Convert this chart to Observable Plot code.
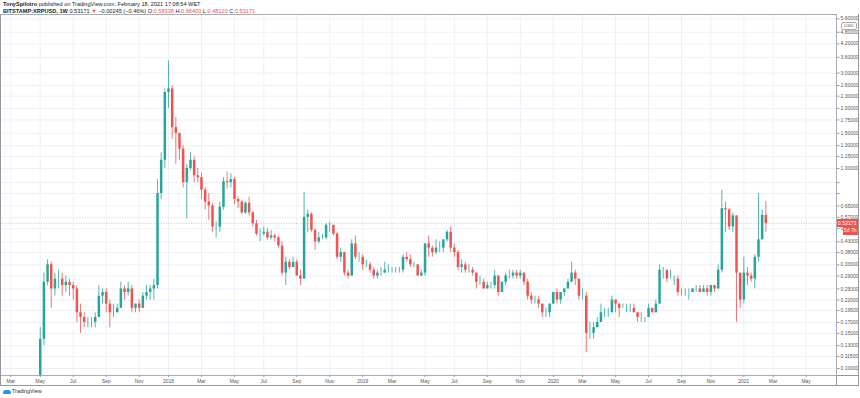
<!DOCTYPE html>
<html><head><meta charset="utf-8">
<script src="https://cdn.jsdelivr.net/npm/d3@7"></script>
<script src="https://cdn.jsdelivr.net/npm/@observablehq/plot@0.6"></script>
<style>
body{margin:0;background:#fff;font-family:"Liberation Sans",Arial,sans-serif;}
#wrap{position:relative;width:860px;height:398px;overflow:hidden;background:#fff;}
#wrap svg{position:absolute;left:0;top:0;}
.hdr{position:absolute;left:3px;font-size:5.6px;white-space:nowrap;color:#222;}
.red{color:#ef5350;}
.ln{position:absolute;background:#9598a1;}
.box{position:absolute;font-size:5.2px;text-align:center;color:#fff;background:#ef5350;line-height:8px;}
#usd{position:absolute;left:841px;top:21.5px;width:14px;height:6px;border:0.6px solid #aaa;border-radius:2px;background:#fff;font-size:4.4px;line-height:6px;text-align:center;color:#555;}
#tv{position:absolute;left:3px;top:388px;font-size:5.4px;color:#333;}
#tv span.ic{display:inline-block;width:8px;height:4px;background:#2196f3;border-radius:3px 3px 1px 1px;margin-right:1px;vertical-align:middle;}
</style></head><body><div id="wrap"></div>
<script>
// ---- data (weekly candles, BITSTAMP:XRPUSD) ----
const firstWeek = "2017-05-01";
const lastWeek = "2021-02-15";
const open = [
0.060,0.140,0.270,0.330,0.250,0.280,0.280,0.260,0.270,0.260,
0.250,0.190,0.180,0.170,0.170,0.170,0.180,0.230,0.240,0.210,
0.190,0.190,0.200,0.250,0.240,0.250,0.200,0.210,0.200,0.230,
0.240,0.250,0.260,0.750,1.100,2.400,2.500,1.600,1.500,1.250,
0.850,1.000,1.100,0.920,0.900,0.780,0.680,0.650,0.510,0.510,
0.640,0.860,0.850,0.880,0.700,0.680,0.600,0.670,0.600,0.530,
0.470,0.470,0.480,0.450,0.460,0.450,0.410,0.300,0.340,0.320,
0.340,0.290,0.280,0.570,0.590,0.490,0.430,0.450,0.450,0.520,
0.520,0.470,0.360,0.380,0.300,0.290,0.420,0.360,0.360,0.330,
0.330,0.310,0.290,0.300,0.300,0.310,0.310,0.310,0.310,0.310,
0.360,0.350,0.330,0.330,0.290,0.300,0.420,0.400,0.380,0.400,
0.400,0.440,0.480,0.400,0.380,0.320,0.330,0.310,0.310,0.300,
0.270,0.270,0.250,0.260,0.260,0.290,0.240,0.270,0.290,0.290,
0.300,0.290,0.300,0.270,0.230,0.220,0.220,0.210,0.190,0.190,
0.210,0.240,0.220,0.240,0.250,0.270,0.300,0.280,0.230,0.230,
0.150,0.150,0.160,0.170,0.190,0.190,0.190,0.220,0.210,0.200,
0.200,0.200,0.200,0.190,0.180,0.180,0.180,0.200,0.190,0.210,
0.310,0.310,0.280,0.280,0.280,0.240,0.240,0.240,0.240,0.250,
0.250,0.240,0.250,0.240,0.260,0.250,0.310,0.630,0.620,0.510,
0.580,0.300,0.220,0.300,0.290,0.280,0.360,0.440,0.583];
const high = [
0.160,0.300,0.350,0.340,0.300,0.310,0.300,0.290,0.280,0.270,
0.260,0.210,0.190,0.180,0.180,0.190,0.260,0.250,0.250,0.220,
0.210,0.210,0.270,0.260,0.270,0.260,0.210,0.220,0.240,0.260,
0.260,0.280,0.880,1.200,2.500,3.450,2.600,1.800,1.450,1.300,
1.050,1.200,1.150,1.000,0.950,0.800,0.750,0.670,0.540,0.680,
0.900,0.960,0.940,0.900,0.720,0.690,0.680,0.720,0.610,0.550,
0.500,0.510,0.500,0.490,0.470,0.460,0.430,0.360,0.350,0.360,
0.350,0.310,0.760,0.620,0.600,0.500,0.480,0.470,0.530,0.540,
0.520,0.480,0.400,0.380,0.310,0.440,0.460,0.380,0.370,0.350,
0.340,0.320,0.310,0.320,0.340,0.330,0.320,0.320,0.320,0.370,
0.380,0.370,0.340,0.330,0.310,0.420,0.460,0.410,0.440,0.430,
0.440,0.490,0.510,0.420,0.390,0.350,0.340,0.330,0.320,0.300,
0.290,0.280,0.270,0.270,0.310,0.290,0.270,0.300,0.310,0.310,
0.310,0.310,0.300,0.280,0.240,0.230,0.230,0.210,0.200,0.210,
0.240,0.250,0.240,0.250,0.280,0.340,0.310,0.280,0.250,0.240,
0.170,0.170,0.180,0.210,0.200,0.200,0.230,0.220,0.210,0.210,
0.210,0.210,0.210,0.190,0.190,0.180,0.210,0.200,0.220,0.330,
0.320,0.310,0.310,0.290,0.290,0.250,0.250,0.250,0.250,0.260,
0.260,0.260,0.260,0.260,0.260,0.330,0.780,0.680,0.630,0.600,
0.580,0.240,0.360,0.320,0.300,0.370,0.750,0.620,0.684];
const low = [
0.060,0.130,0.260,0.200,0.230,0.250,0.230,0.240,0.230,0.220,
0.170,0.150,0.160,0.160,0.160,0.160,0.180,0.210,0.190,0.160,
0.180,0.190,0.200,0.220,0.230,0.190,0.190,0.190,0.200,0.220,
0.220,0.220,0.250,0.700,1.000,2.000,1.400,1.050,1.100,0.800,
0.560,0.980,0.850,0.850,0.700,0.620,0.550,0.480,0.450,0.480,
0.620,0.790,0.800,0.660,0.630,0.590,0.590,0.580,0.510,0.460,
0.430,0.460,0.440,0.440,0.430,0.400,0.290,0.260,0.310,0.320,
0.290,0.260,0.280,0.480,0.480,0.390,0.420,0.440,0.440,0.480,
0.460,0.350,0.340,0.290,0.280,0.290,0.350,0.340,0.310,0.320,
0.300,0.280,0.280,0.290,0.300,0.300,0.300,0.300,0.300,0.300,
0.340,0.320,0.320,0.290,0.290,0.290,0.360,0.360,0.370,0.380,
0.380,0.430,0.380,0.360,0.310,0.300,0.300,0.300,0.290,0.250,
0.260,0.250,0.250,0.250,0.250,0.230,0.240,0.260,0.280,0.280,
0.280,0.280,0.260,0.220,0.210,0.210,0.200,0.180,0.180,0.180,
0.210,0.210,0.210,0.230,0.250,0.270,0.260,0.220,0.220,0.120,
0.140,0.140,0.160,0.170,0.180,0.180,0.190,0.190,0.180,0.200,
0.190,0.190,0.190,0.170,0.170,0.170,0.180,0.190,0.190,0.210,
0.280,0.270,0.280,0.260,0.230,0.230,0.230,0.220,0.240,0.240,
0.240,0.240,0.230,0.230,0.240,0.250,0.300,0.480,0.490,0.480,
0.170,0.200,0.210,0.260,0.270,0.250,0.340,0.440,0.481];
const close = [
0.140,0.270,0.330,0.250,0.280,0.280,0.260,0.270,0.260,0.250,
0.190,0.180,0.170,0.170,0.170,0.180,0.230,0.240,0.210,0.190,
0.190,0.200,0.250,0.240,0.250,0.200,0.210,0.200,0.230,0.240,
0.250,0.260,0.750,1.100,2.400,2.500,1.600,1.500,1.250,0.850,
1.000,1.100,0.920,0.900,0.780,0.680,0.650,0.510,0.510,0.640,
0.860,0.850,0.880,0.700,0.680,0.600,0.670,0.600,0.530,0.470,
0.470,0.480,0.450,0.460,0.450,0.410,0.300,0.340,0.320,0.340,
0.290,0.280,0.570,0.590,0.490,0.430,0.450,0.450,0.520,0.520,
0.470,0.360,0.380,0.300,0.290,0.420,0.360,0.360,0.330,0.330,
0.310,0.290,0.300,0.300,0.310,0.310,0.310,0.310,0.310,0.360,
0.350,0.330,0.330,0.290,0.300,0.420,0.400,0.380,0.400,0.400,
0.440,0.480,0.400,0.380,0.320,0.330,0.310,0.310,0.300,0.270,
0.270,0.250,0.260,0.260,0.290,0.240,0.270,0.290,0.290,0.300,
0.290,0.300,0.270,0.230,0.220,0.220,0.210,0.190,0.190,0.210,
0.240,0.220,0.240,0.250,0.270,0.300,0.280,0.230,0.230,0.150,
0.150,0.160,0.170,0.190,0.190,0.190,0.220,0.210,0.200,0.200,
0.200,0.200,0.190,0.180,0.180,0.180,0.200,0.190,0.210,0.310,
0.310,0.280,0.280,0.280,0.240,0.240,0.240,0.240,0.250,0.250,
0.240,0.250,0.240,0.260,0.250,0.310,0.630,0.620,0.510,0.580,
0.300,0.220,0.300,0.290,0.280,0.360,0.440,0.583,0.53171];

const yTicks = [0.1,0.115,0.13,0.15,0.17,0.195,0.22,0.25,0.29,0.33,0.38,0.43,0.5,0.57,0.65,0.75,0.85,1,1.15,1.3,1.5,1.75,2,2.3,2.6,3,3.6,4.2,4.8,5.6];
const xTickDates = ["2017-03-06","2017-05-01","2017-07-03","2017-09-04","2017-11-06","2018-01-01","2018-03-05","2018-05-07","2018-07-02","2018-09-03","2018-11-05","2019-01-07","2019-03-04","2019-05-06","2019-07-01","2019-09-02","2019-11-04","2020-01-06","2020-03-02","2020-05-04","2020-07-06","2020-09-07","2020-11-02","2021-01-04","2021-03-01","2021-05-03"];
const xTickLabels = ["Mar","May","Jul","Sep","Nov","2018","Mar","May","Jul","Sep","Nov","2019","Mar","May","Jul","Sep","Nov","2020","Mar","May","Jul","Sep","Nov","2021","Mar","May"];
const lastPrice = 0.53171;

// ---- build ----
const weeks = d3.utcMonday.range(new Date(firstWeek), d3.utcDay.offset(new Date(lastWeek), 1));
const bars = weeks.map((d, i) => ({date: d, o: open[i], h: high[i], l: low[i], c: close[i]}));
const tickDates = xTickDates.map(s => new Date(s));
const labelOf = new Map(tickDates.map((d, i) => [+d, xTickLabels[i]]));
const UP = "#26a69a", DN = "#ef5350";
const col = d => d.c >= d.o ? UP : DN;
// the 0.50000 label sits under the price tag on the reference; keep it but hidden by the tag
const axisTicks = yTicks;

const chart = Plot.plot({
  width: 860, height: 398,
  marginTop: 14, marginBottom: 23, marginLeft: 1, marginRight: 24,
  style: {fontFamily: "Liberation Sans, Arial, sans-serif", background: "transparent", overflow: "visible"},
  x: {type: "utc", domain: [new Date("2017-02-16"), new Date("2021-06-30")]},
  y: {type: "log", domain: [0.0923, 5.89]},
  marks: [
    Plot.gridX(tickDates, {stroke: "#edf0f6", strokeOpacity: 1}),
    Plot.gridY(yTicks, {stroke: "#edf0f6", strokeOpacity: 1}),
    Plot.ruleY([lastPrice], {stroke: DN, strokeOpacity: 0.7, strokeWidth: 0.6, strokeDasharray: "1,1.5"}),
    Plot.ruleX(bars, {x: "date", y1: "l", y2: "h", stroke: col, strokeWidth: 0.8, clip: true}),
    Plot.ruleX(bars, {x: "date", y1: "o", y2: "c", stroke: col, strokeWidth: 2.5, clip: true}),
    Plot.frame({anchor: "top", stroke: "#9598a1", strokeWidth: 0.8}),
    Plot.frame({anchor: "right", stroke: "#9598a1", strokeWidth: 0.8}),
    Plot.frame({anchor: "bottom", stroke: "#9598a1", strokeWidth: 0.8}),
    Plot.axisY(axisTicks, {anchor: "right", tickSize: 2.5, tickPadding: 1.5, fontSize: 5, stroke: "#9598a1", fill: "#555", tickFormat: d => d.toFixed(5), textAnchor: "start"}),
    Plot.axisX(tickDates, {anchor: "bottom", tickSize: 2, tickPadding: 1.5, fontSize: 5, stroke: "#9598a1", fill: "#555", tickFormat: d => labelOf.get(+d)})
  ]
});
const wrap = document.getElementById("wrap");
wrap.appendChild(chart);

// header & overlays
const yPx = chart.scale("y").apply(lastPrice);
wrap.insertAdjacentHTML("beforeend", `
<div class="hdr" style="top:1px"><b>TonySpilotro</b> published on TradingView.com, February 18, 2021 17:08:54 WET</div>
<div class="hdr" style="top:7.5px"><b>BITSTAMP:XRPUSD, 1W</b> 0.53171 <span class="red">▼</span> −0.00245 (−0.46%) O:<span class="red">0.58338</span> H:<span class="red">0.68400</span> L:<span class="red">0.48120</span> C:<span class="red">0.53171</span></div>
<div class="ln" style="left:0;top:13.5px;width:1px;height:372px"></div>
<div class="ln" style="left:858px;top:13.5px;width:1px;height:372px"></div>
<div class="ln" style="left:0;top:385px;width:859px;height:1px"></div>
<div class="ln" style="left:836px;top:375px;width:23px;height:0.8px"></div>
<div class="ln" style="left:835.6px;top:375px;width:0.8px;height:10px"></div>
<div id="usd">USD</div>
<div class="box" style="left:836.5px;top:${yPx-4}px;width:21.5px;height:8px">0.53171</div>
<div class="box" style="left:842.5px;top:${yPx+4.5}px;width:15.5px;height:7.5px;line-height:7.5px">5d 7h</div>
<div id="tv"><span class="ic"></span>TradingView</div>
`);
</script></body></html>
